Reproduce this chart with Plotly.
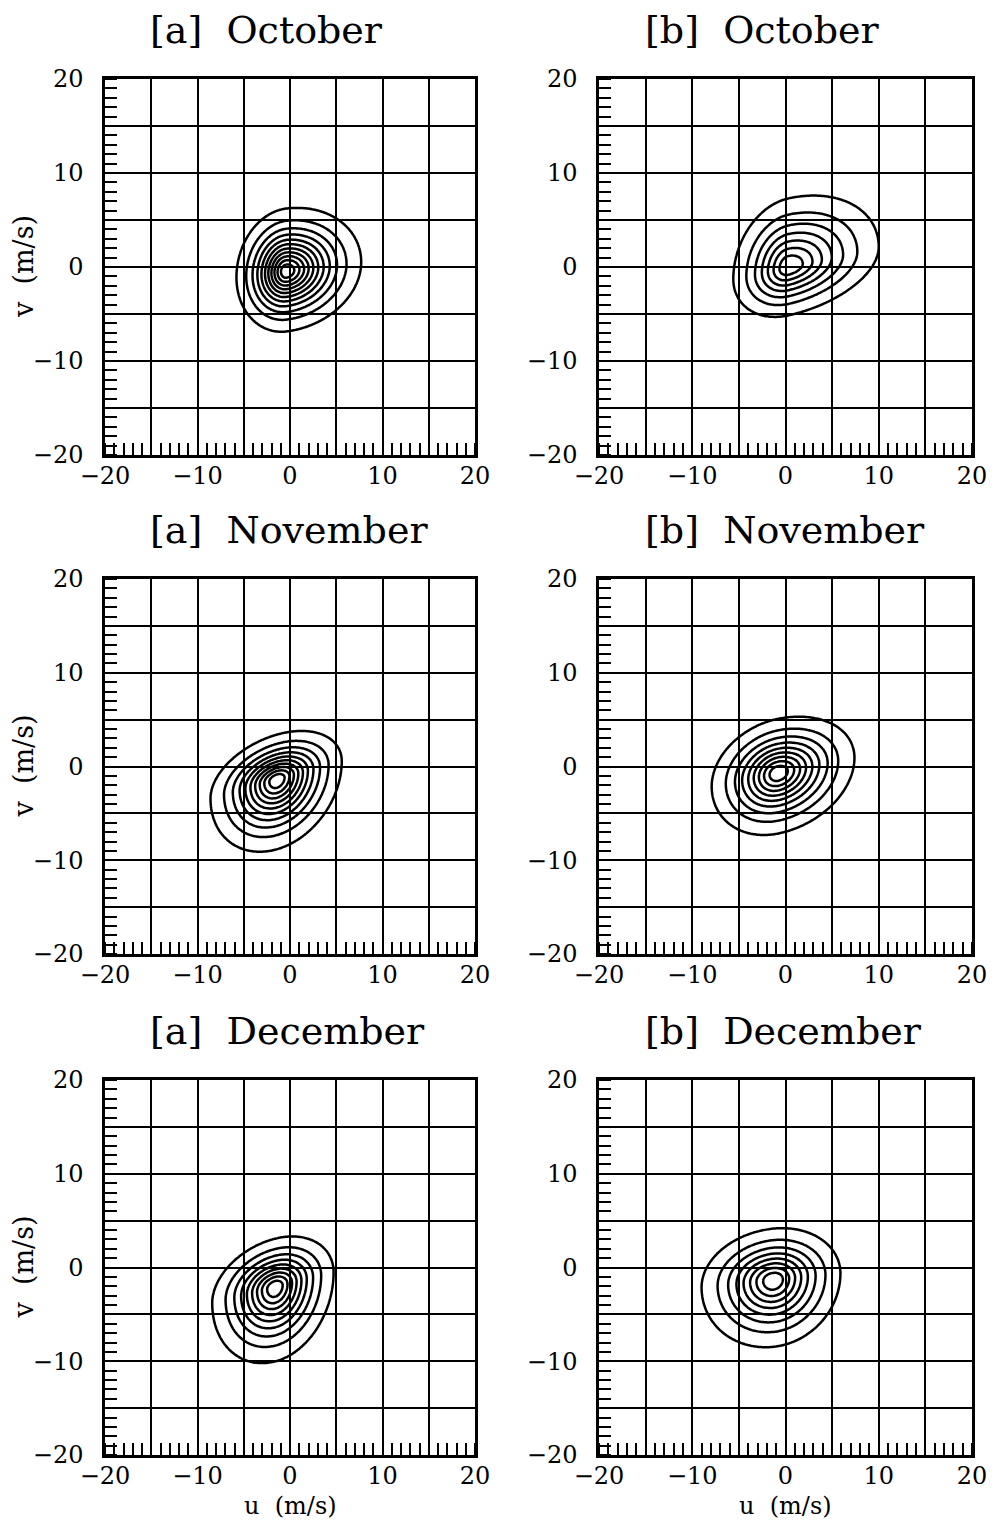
import numpy as np
import plotly.graph_objects as go

# Panels in reading order: [a] Oct, [b] Oct, [a] Nov, [b] Nov, [a] Dec, [b] Dec
months = ["October", "October", "November", "November", "December", "December"]
sets = ["a", "b", "a", "b", "a", "b"]

# Most frequent wind (m/s)
peak_u = [-0.4, 0.3, -1.4, -0.8, -1.6, -1.3]
peak_v = [-0.45, 0.0, -1.4, -0.7, -2.1, -1.35]
# Spread of the distribution on each side of the peak (m/s)
spread_u_neg = [1.85, 2.28, 2.53, 2.57, 2.46, 2.87]
spread_u_pos = [2.78, 3.75, 2.46, 2.96, 2.28, 2.68]
spread_v_neg = [2.20, 1.99, 2.61, 2.33, 2.86, 2.65]
spread_v_pos = [2.29, 2.82, 1.69, 2.09, 1.87, 2.05]
# u-v coupling (dv per du) of the distribution
tilt = [0.12, 0.22, 0.28, 0.20, 0.25, 0.10]
# number of equally spaced frequency contours
n_levels = [11, 7, 10, 9, 9, 8]

tick_vals = [-20, -15, -10, -5, 0, 5, 10, 15, 20]
tick_text = ["\u221220", "", "\u221210", "", "0", "", "10", "", "20"]

grid = np.round(np.arange(-12.0, 12.0001, 0.15), 3)
U, V = np.meshgrid(grid, grid)


def frequency(i):
    du = U - peak_u[i]
    dv = V - peak_v[i] - tilt[i] * du
    su = np.where(du < 0, spread_u_neg[i], spread_u_pos[i])
    sv = np.where(dv < 0, spread_v_neg[i], spread_v_pos[i])
    d = np.sqrt((du / su) ** 2 + (dv / sv) ** 2)
    return np.round(np.exp(-0.5 * d ** 1.5), 5)


W, H = 996, 1524
col_x = [(105, 475), (599, 972)]
row_y = [(79, 455), (579, 954), (1080, 1455)]
title_left = [148, 643]
SERIF = "DejaVu Serif"

fig = go.Figure()
layout = dict(
    width=W, height=H, margin=dict(l=0, r=0, t=0, b=0, pad=0, autoexpand=False),
    paper_bgcolor="white", plot_bgcolor="white", showlegend=False,
    annotations=[],
)

for i in range(6):
    r, c = divmod(i, 2)
    ax = "" if i == 0 else str(i + 1)
    n = n_levels[i]
    step = 1.0 / (n + 1)
    fig.add_trace(go.Contour(
        x=grid, y=grid, z=frequency(i),
        xaxis="x" + ax, yaxis="y" + ax,
        autocontour=False,
        contours=dict(start=step, end=n * step + 1e-6, size=step, coloring="none"),
        line=dict(color="black", width=2.5, smoothing=1),
        showscale=False, hoverinfo="skip",
    ))
    x0, x1 = col_x[c]
    y0, y1 = row_y[r]
    common = dict(
        range=[-20, 20], tickmode="array", tickvals=tick_vals, ticktext=tick_text,
        showgrid=True, gridcolor="black", gridwidth=2,
        showline=True, linecolor="black", linewidth=2.5, mirror=True,
        ticks="", zeroline=False, fixedrange=True, automargin=False,
        minor=dict(dtick=1, tick0=0, ticks="inside", ticklen=12,
                   tickwidth=2, tickcolor="black", showgrid=False),
        tickfont=dict(family=SERIF, size=24, color="black"),
    )
    layout["xaxis" + ax] = dict(common, domain=[x0 / W, x1 / W],
                                anchor="y" + ax, ticklabelstandoff=-3)
    layout["yaxis" + ax] = dict(common, domain=[1 - y1 / H, 1 - y0 / H],
                                anchor="x" + ax, ticklabelstandoff=14)
    layout["annotations"].append(dict(
        text="[" + sets[i] + "]\u00a0\u00a0" + months[i],
        x=title_left[c] / W, y=1 - (y0 - 49) / H, xref="paper", yref="paper",
        xanchor="left", yanchor="middle", showarrow=False,
        font=dict(family=SERIF, size=38, color="black"),
    ))
    if c == 0:
        layout["annotations"].append(dict(
            text="v\u00a0\u00a0(m/s)", textangle=-90,
            x=23 / W, y=1 - (y0 + y1) / 2 / H, xref="paper", yref="paper",
            xanchor="center", yanchor="middle", showarrow=False,
            font=dict(family=SERIF, size=27, color="black"),
        ))
    if r == 2:
        layout["annotations"].append(dict(
            text="u\u00a0\u00a0(m/s)",
            x=(x0 + x1) / 2 / W, y=1 - 1506 / H, xref="paper", yref="paper",
            xanchor="center", yanchor="middle", showarrow=False,
            font=dict(family=SERIF, size=24, color="black"),
        ))

fig.update_layout(**layout)
fig.write_html("out.html")
